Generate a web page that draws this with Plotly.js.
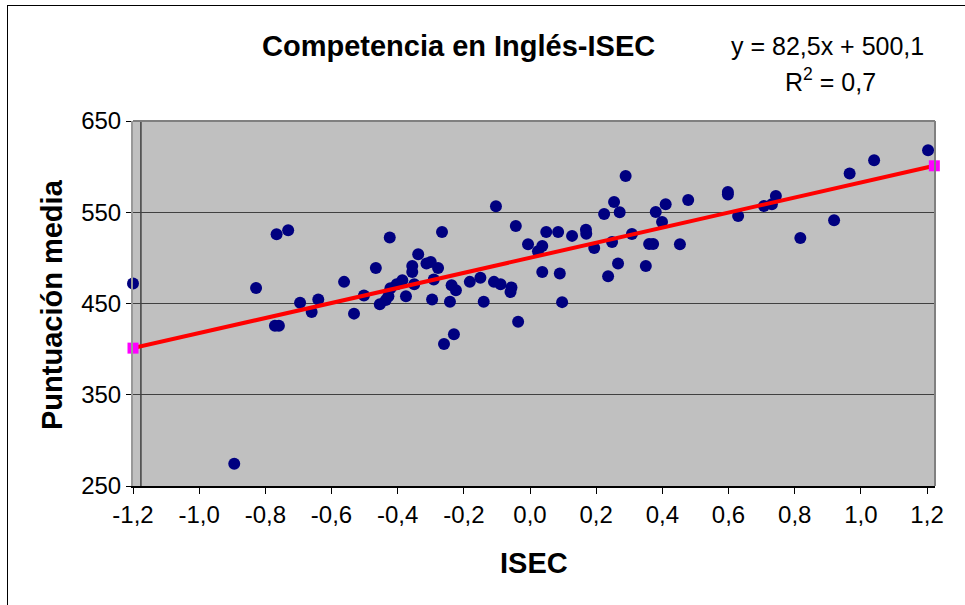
<!DOCTYPE html>
<html>
<head>
<meta charset="utf-8">
<script src="https://cdn.plot.ly/plotly-3.0.1.min.js"></script>
<style>
html,body{margin:0;padding:0;background:#fff;overflow:hidden;}
#wrap{position:relative;width:965px;height:605px;}
#chart{position:absolute;left:0;top:0;width:965px;height:605px;}
#frame{position:absolute;left:7px;top:5px;width:1000px;height:1000px;border:1px solid #000;pointer-events:none;}
</style>
</head>
<body>
<div id="wrap"><div id="chart"></div><div id="frame"></div></div>
<script>
// Data
const isec = [-1.20, -0.828, -0.894, -0.766, -0.731, -0.771, -0.759, -0.695, -0.660, -0.640,
  -0.562, -0.466, -0.502, -0.532, -0.454, -0.436, -0.428, -0.422, -0.403, -0.386,
  -0.424, -0.266, -0.338, -0.356, -0.356, -0.313, -0.300, -0.278, -0.350, -0.291,
  -0.237, -0.224, -0.182, -0.150, -0.375, -0.296, -0.242, -0.140, -0.230, -0.260,
  -0.109, -0.089, -0.056, -0.059, -0.103, -0.043, -0.036, -0.006, 0.037, 0.024,
  0.049, 0.085, 0.127, 0.169, 0.170, 0.194, 0.224, 0.254, 0.271, 0.289,
  0.248, 0.308, 0.380, 0.410, 0.399, 0.360, 0.372, 0.453, 0.037, 0.090,
  0.266, 0.236, 0.350, 0.097, 0.478, 0.598, 0.598, 0.629, 0.707, 0.731,
  0.743, 0.817, 0.919, 0.966, 1.040, 1.203];
const puntuacion = [471.9, 467.1, 274.4, 525.9, 530.3, 425.5, 425.5, 450.7, 440.8, 454.4,
  473.7, 489.0, 458.8, 438.9, 449.3, 453.7, 458.0, 466.8, 471.2, 475.6,
  522.3, 528.4, 504.0, 491.2, 484.6, 493.8, 495.6, 489.0, 471.2, 476.3,
  470.1, 464.6, 473.7, 478.1, 458.0, 454.4, 451.8, 451.8, 416.4, 405.5,
  473.7, 471.2, 467.6, 462.7, 556.6, 535.0, 429.9, 515.0, 513.1, 507.3,
  528.4, 528.4, 524.1, 530.8, 526.5, 510.9, 548.2, 561.3, 550.0, 589.8,
  517.5, 526.2, 550.3, 558.8, 539.4, 515.3, 515.3, 515.0, 484.6, 482.9,
  493.8, 479.9, 491.1, 451.5, 563.5, 572.2, 569.5, 546.0, 556.8, 558.8,
  567.9, 521.9, 541.2, 592.4, 606.9, 617.9];

// Trendline (from the chart's equation)
const slope = 82.5;
const intercept = 500.1;
const trendX = [-1.2, 1.222];

// Tick labels
const xTickVals = [-1.2, -1.0, -0.8, -0.6, -0.4, -0.2, 0.0, 0.2, 0.4, 0.6, 0.8, 1.0, 1.2];
const xTickText = ["-1,2", "-1,0", "-0,8", "-0,6", "-0,4", "-0,2", "0,0", "0,2", "0,4", "0,6", "0,8", "1,0", "1,2"];
const yTickVals = [250, 350, 450, 550, 650];
const yTickText = ["250", "350", "450", "550", "650"];

const trendY = trendX.map(x => slope * x + intercept);

const FONT = "Liberation Sans, Arial, sans-serif";
const M = {l: 133, r: 30, t: 121, b: 119};
const W = 965, H = 605;
const pw = W - M.l - M.r, ph = H - M.t - M.b;
const px = x => (x - M.l) / pw;
const py = y => (H - M.b - y) / ph;

const traces = [
  {x: isec, y: puntuacion, type: 'scatter', mode: 'markers', cliponaxis: false,
   marker: {color: '#000080', size: 12}, hoverinfo: 'skip', showlegend: false},
  {x: trendX, y: trendY, type: 'scatter', mode: 'lines',
   line: {color: '#FF0000', width: 4}, showlegend: false, cliponaxis: false},
  {x: trendX, y: trendY, type: 'scatter', mode: 'markers',
   marker: {color: '#FF00FF', size: 11, symbol: 'square'}, showlegend: false, cliponaxis: false}
];

const layout = {
  width: W, height: H,
  margin: M,
  paper_bgcolor: '#FFFFFF',
  plot_bgcolor: '#C0C0C0',
  showlegend: false,
  font: {family: FONT, color: '#000'},
  xaxis: {
    range: [-1.2, 1.224], tickvals: xTickVals, ticktext: xTickText,
    tickfont: {family: FONT, size: 24, color: '#000'},
    ticks: 'outside', ticklen: 6, tickcolor: '#000', tickwidth: 1,
    showgrid: false, zeroline: false,
    showline: true, linecolor: '#000', linewidth: 2
  },
  yaxis: {
    range: [250, 650], tickvals: yTickVals, ticktext: yTickText,
    tickfont: {family: FONT, size: 24, color: '#000'},
    ticks: 'outside', ticklen: 5, tickcolor: '#000', tickwidth: 1,
    showgrid: true, gridcolor: '#404040', gridwidth: 1, zeroline: false,
    showline: true, linecolor: '#999999', linewidth: 2
  },
  shapes: [
    {type: 'line', xref: 'paper', yref: 'paper', x0: 0, x1: 1, y0: 1, y1: 1,
     line: {color: '#808080', width: 2}},
    {type: 'line', xref: 'paper', yref: 'paper', x0: 1, x1: 1, y0: 0, y1: 1,
     line: {color: '#808080', width: 2}},
    {type: 'line', xref: 'x', yref: 'paper', x0: -1.176, x1: -1.176, y0: 0, y1: 1,
     line: {color: '#000', width: 1}, layer: 'below'}
  ],
  annotations: [
    {text: '<b>Competencia en Inglés-ISEC</b>', xref: 'paper', yref: 'paper',
     x: px(458), y: py(46), xanchor: 'center', yanchor: 'middle', showarrow: false,
     font: {family: FONT, size: 29, color: '#000'}},
    {text: 'y = 82,5x + 500,1', xref: 'paper', yref: 'paper',
     x: px(827), y: py(46), xanchor: 'center', yanchor: 'middle', showarrow: false,
     font: {family: FONT, size: 25, color: '#000'}},
    {text: 'R<sup>2</sup> = 0,7', xref: 'paper', yref: 'paper',
     x: px(830), y: py(80), xanchor: 'center', yanchor: 'middle', showarrow: false,
     font: {family: FONT, size: 25, color: '#000'}},
    {text: '<b>ISEC</b>', xref: 'paper', yref: 'paper',
     x: px(534), y: py(563), xanchor: 'center', yanchor: 'middle', showarrow: false,
     font: {family: FONT, size: 29, color: '#000'}},
    {text: '<b>Puntuación media</b>', xref: 'paper', yref: 'paper', textangle: -90,
     x: px(52), y: py(305), xanchor: 'center', yanchor: 'middle', showarrow: false,
     font: {family: FONT, size: 29, color: '#000'}}
  ]
};

Plotly.newPlot('chart', traces, layout, {displayModeBar: false, staticPlot: true});
</script>
</body>
</html>
